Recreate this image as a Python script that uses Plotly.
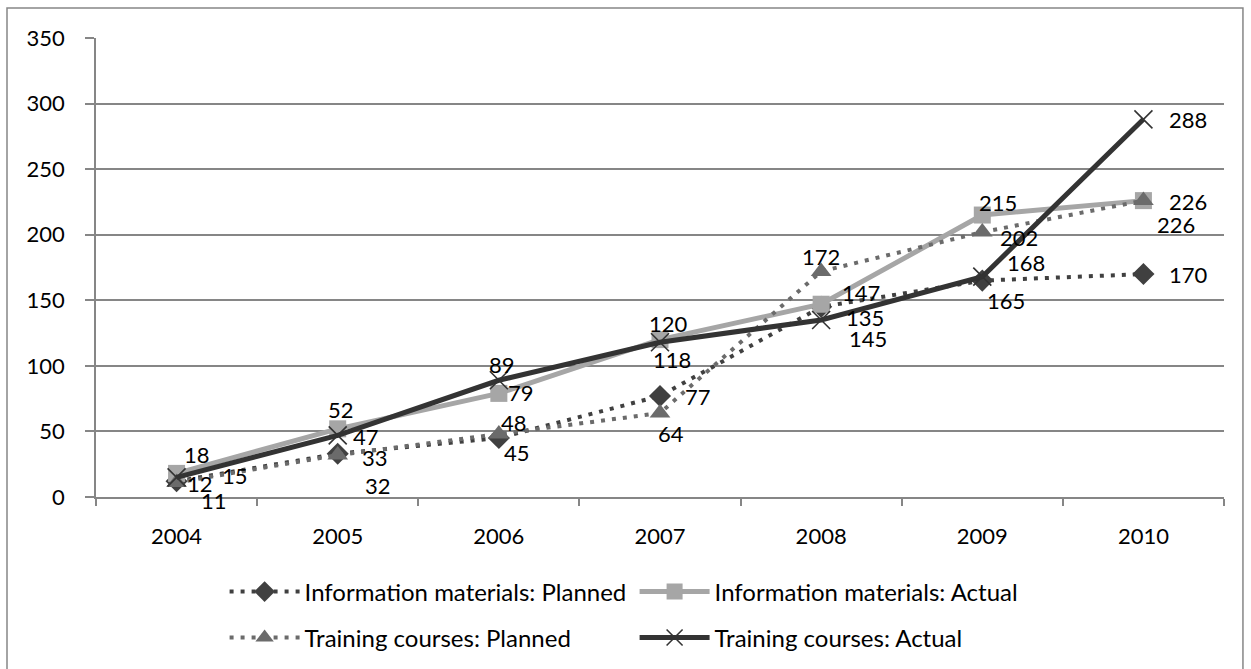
import plotly.graph_objects as go

# Years on the category axis
years = ["2004", "2005", "2006", "2007", "2008", "2009", "2010"]

# Series values
info_planned = [12, 33, 45, 77, 145, 165, 170]
info_actual = [18, 52, 79, 120, 147, 215, 226]
training_planned = [11, 32, 48, 64, 172, 202, 226]
training_actual = [15, 47, 89, 118, 135, 168, 288]

# Y axis ticks
y_ticks = [0, 50, 100, 150, 200, 250, 300, 350]

FONT = "Lato"
GRID = "#868686"

# Pixel offsets (dx, dy) of each value label from its point; dy positive = down
info_planned_off = [(23, 2), (37, 4), (18, 15), (38, 0), (47, 32), (24, 20), (45, 0)]
info_actual_off = [(20, -19), (3, -19), (22, -1), (8, -16), (40, -12), (16, -13), (45, 1)]
training_planned_off = [(37, 18), (40, 30), (15, -12), (11, 20), (0, -15), (37, 5), (33, 24)]
training_actual_off = [(58, -2), (28, 1), (3, -16), (12, 17), (44, -2), (44, -14), (45, 0)]

series = [
    dict(name="Information materials: Planned", values=info_planned, off=info_planned_off,
         color="#404040", dash="4px,7px", width=4,
         marker=dict(symbol="diamond", size=17, color="#404040"), legend="legend"),
    dict(name="Information materials: Actual", values=info_actual, off=info_actual_off,
         color="#A6A6A6", dash="solid", width=5,
         marker=dict(symbol="square", size=17, color="#A6A6A6"), legend="legend"),
    dict(name="Training courses: Planned", values=training_planned, off=training_planned_off,
         color="#6B6B6B", dash="4px,7px", width=4,
         marker=dict(symbol="triangle-up", size=18, color="#6B6B6B"), legend="legend2"),
    dict(name="Training courses: Actual", values=training_actual, off=training_actual_off,
         color="#333333", dash="solid", width=5,
         marker=dict(symbol="x-thin", size=18, color="#333333",
                     line=dict(width=1.6, color="#333333")), legend="legend2"),
]

fig = go.Figure()
annotations = []
for s in series:
    fig.add_trace(go.Scatter(
        x=years, y=s["values"], name=s["name"], mode="lines+markers",
        line=dict(color=s["color"], width=s["width"], dash=s["dash"]),
        marker=s["marker"], legend=s["legend"],
    ))
    # value labels; on a category axis annotations take the category index
    for i, (v, (dx, dy)) in enumerate(zip(s["values"], s["off"])):
        annotations.append(dict(
            x=i, y=v, xref="x", yref="y", text=str(v), showarrow=False,
            xshift=dx, yshift=-dy, font=dict(family=FONT, size=22, color="#000000"),
        ))

# Outer chart border
fig.add_shape(type="rect", xref="paper", yref="paper",
              x0=-0.0789, x1=1.0168, y0=-0.40, y1=1.0654,
              line=dict(color="#878787", width=1.5), layer="below")

legend_common = dict(
    orientation="h", xref="paper", yref="paper", xanchor="left", yanchor="middle",
    font=dict(family=FONT, size=24, color="#000000"),
    itemwidth=70, entrywidthmode="pixels", entrywidth=325,
    bgcolor="rgba(0,0,0,0)", traceorder="normal",
)

fig.update_layout(
    width=1251, height=669,
    margin=dict(l=96, r=27, t=38, b=172, autoexpand=False),
    paper_bgcolor="#FFFFFF", plot_bgcolor="#FFFFFF",
    font=dict(family=FONT, size=22, color="#000000"),
    showlegend=True,
    legend=dict(x=0.114, y=-0.207, **legend_common),
    legend2=dict(x=0.114, y=-0.307, **legend_common),
    annotations=annotations,
    xaxis=dict(
        type="category", range=[-0.5, 6.5], tickson="boundaries",
        ticks="outside", ticklen=7, tickcolor=GRID, tickwidth=1.5,
        showline=True, linecolor=GRID, linewidth=1.5,
        showgrid=False, zeroline=False, ticklabelstandoff=19,
        tickfont=dict(family=FONT, size=22, color="#000000"),
    ),
    yaxis=dict(
        range=[0, 350], tickvals=y_ticks, ticks="outside", ticklen=9,
        tickcolor=GRID, tickwidth=1.5,
        showline=True, linecolor=GRID, linewidth=1.5,
        showgrid=True, gridcolor=GRID, gridwidth=1.5, zeroline=False,
        ticklabelstandoff=16,
        tickfont=dict(family=FONT, size=22, color="#000000"),
    ),
)

fig.write_html("out.html")
